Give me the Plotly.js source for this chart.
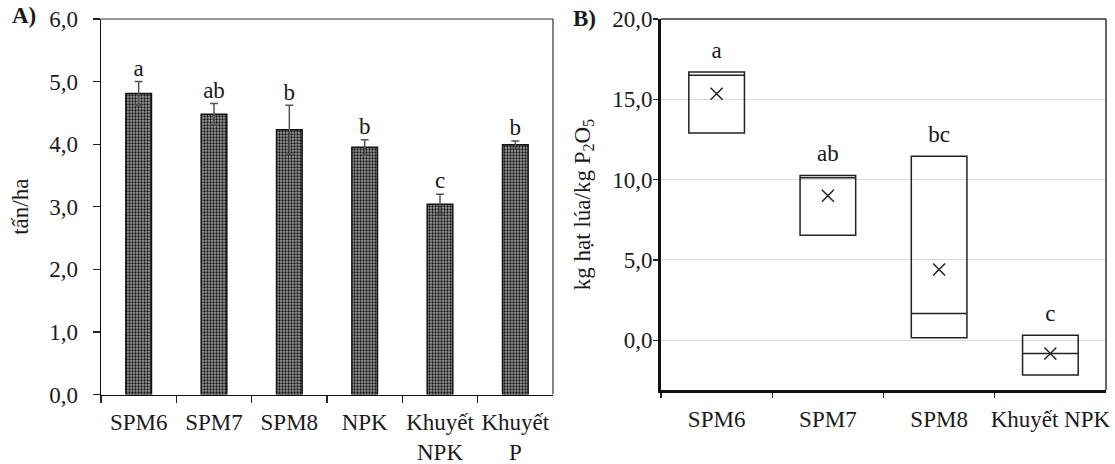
<!DOCTYPE html>
<html>
<head>
<meta charset="utf-8">
<script src="https://cdn.plot.ly/plotly-3.0.1.min.js"></script>
<style>html,body{margin:0;padding:0;background:#fff;}#chart{width:1115px;height:464px;}</style>
</head>
<body>
<div id="chart"></div>
<script>
// ---- Panel A data ----
const categoriesA = ['SPM6', 'SPM7', 'SPM8', 'NPK', 'Khuyết NPK', 'Khuyết P'];
const tickLabelsA = ['SPM6', 'SPM7', 'SPM8', 'NPK', 'Khuyết<br>NPK', 'Khuyết<br>P'];
const yieldA = [4.81, 4.48, 4.23, 3.95, 3.04, 3.99];
const errA = [0.19, 0.17, 0.39, 0.12, 0.16, 0.06];
const lettersA = ['a', 'ab', 'b', 'b', 'c', 'b'];
const yTicksA = [0, 1, 2, 3, 4, 5, 6];

// ---- Panel B data ----
const categoriesB = ['SPM6', 'SPM7', 'SPM8', 'Khuyết NPK'];
const q1B = [12.9, 6.54, 0.15, -2.16];
const medianB = [16.5, 10.11, 1.66, -0.83];
const q3B = [16.7, 10.26, 11.46, 0.31];
const meanB = [15.35, 8.99, 4.4, -0.83];
const lettersB = ['a', 'ab', 'bc', 'c'];
const yTicksB = [0, 5, 10, 15, 20];

const FONT = 'Liberation Serif, Times New Roman, serif';
const TXT = '#1a1a1a';

const topA = yieldA.map((v, i) => v + errA[i]);

const traces = [
  {
    type: 'bar', x: categoriesA, y: yieldA, xaxis: 'x', yaxis: 'y',
    marker: {
      color: '#777',
      line: {color: '#111', width: 1.5},
      pattern: {shape: '.', fgcolor: '#111', bgcolor: '#9c9c9c', size: 3, solidity: 0.45}
    },
    error_y: {type: 'data', array: errA, visible: true, color: '#555', thickness: 1.5, width: 4},
    hoverinfo: 'x+y', showlegend: false
  },
  {
    type: 'scatter', mode: 'text', x: categoriesA, y: topA, text: lettersA,
    textposition: 'top center', xaxis: 'x', yaxis: 'y',
    textfont: {family: FONT, size: 23, color: TXT}, showlegend: false, hoverinfo: 'skip'
  },
  {
    type: 'box', x: categoriesB, q1: q1B, median: medianB, q3: q3B,
    lowerfence: q1B, upperfence: q3B, xaxis: 'x2', yaxis: 'y2',
    width: 0.5, whiskerwidth: 0,
    line: {color: '#222', width: 1.5}, fillcolor: 'rgba(255,255,255,0)',
    boxpoints: false, showlegend: false
  },
  {
    type: 'scatter', mode: 'markers', x: categoriesB, y: meanB, xaxis: 'x2', yaxis: 'y2',
    marker: {symbol: 'x-thin-open', size: 12, color: '#222', line: {color: '#222', width: 1.5}},
    showlegend: false
  },
  {
    type: 'scatter', mode: 'markers+text', x: categoriesB, y: q3B, text: lettersB,
    textposition: 'top center', xaxis: 'x2', yaxis: 'y2',
    marker: {size: 12, opacity: 0},
    textfont: {family: FONT, size: 23, color: TXT}, showlegend: false, hoverinfo: 'skip'
  }
];

const axFont = {family: FONT, size: 23, color: TXT};

const layout = {
  width: 1115, height: 464,
  margin: {l: 0, r: 0, t: 0, b: 0},
  paper_bgcolor: '#fff', plot_bgcolor: '#fff',
  separators: ',.',
  font: {family: FONT, size: 23, color: TXT},
  bargap: 0.66,
  xaxis: {
    domain: [101 / 1115, 553 / 1115], anchor: 'y',
    type: 'category', categoryarray: categoriesA, range: [-0.5, 5.5],
    tickvals: categoriesA, ticktext: tickLabelsA, tickangle: 0,
    tickson: 'boundaries', ticks: 'outside', ticklen: 7, tickcolor: '#222', tickwidth: 1.2,
    showline: true, linecolor: '#111', linewidth: 1.5, mirror: false,
    ticklabelstandoff: 6,
    tickfont: axFont, showgrid: false, fixedrange: true
  },
  yaxis: {
    domain: [1 - 394.5 / 464, 1 - 19 / 464], anchor: 'x',
    range: [0, 6], tickvals: yTicksA, tickformat: '.1f',
    ticks: 'outside', ticklen: 7, tickcolor: '#222', tickwidth: 1.2,
    showline: true, linecolor: '#111', linewidth: 1.5,
    tickfont: axFont, showgrid: false, zeroline: false,
    ticklabelstandoff: 10,
    title: {text: 'tấn/ha', font: axFont, standoff: 14}
  },
  xaxis2: {
    domain: [661 / 1115, 1106 / 1115], anchor: 'y2',
    type: 'category', categoryarray: categoriesB, range: [-0.5, 3.5], tickangle: 0,
    tickson: 'boundaries', ticks: 'outside', ticklen: 5, tickcolor: '#222', tickwidth: 1.2,
    showline: true, linecolor: '#111', linewidth: 3,
    ticklabelstandoff: 6,
    tickfont: axFont, showgrid: false, fixedrange: true
  },
  yaxis2: {
    domain: [1 - 390 / 464, 1 - 19 / 464], anchor: 'x2',
    range: [-3.1, 20], tickvals: yTicksB, tickformat: '.1f',
    ticks: 'outside', ticklen: 5, tickcolor: '#222', tickwidth: 1.2,
    showline: true, linecolor: '#111', linewidth: 3,
    showgrid: true, gridcolor: '#d9d9d9', gridwidth: 1, zeroline: false,
    ticklabelstandoff: -4,
    tickfont: axFont,
    title: {text: 'kg hạt lúa/kg P<sub>2</sub>O<sub>5</sub>', font: axFont, standoff: 16}
  },
  shapes: [
    {type: 'line', xref: 'x domain', yref: 'y domain', x0: 0, x1: 1, y0: 1, y1: 1, line: {color: '#333', width: 1.2}},
    {type: 'line', xref: 'x domain', yref: 'y domain', x0: 1, x1: 1, y0: 0, y1: 1, line: {color: '#333', width: 1.2}},
    {type: 'line', xref: 'x2 domain', yref: 'y2 domain', x0: 0, x1: 1, y0: 1, y1: 1, line: {color: '#333', width: 1.5}},
    {type: 'line', xref: 'x2 domain', yref: 'y2 domain', x0: 1, x1: 1, y0: 0, y1: 1, line: {color: '#333', width: 1.5}}
  ],
  annotations: [
    {text: '<b>A)</b>', xref: 'paper', yref: 'paper', x: 10 / 1115, y: 1 - 16 / 464,
     xanchor: 'left', yanchor: 'middle', showarrow: false, font: {family: FONT, size: 23, color: TXT}},
    {text: '<b>B)</b>', xref: 'paper', yref: 'paper', x: 571 / 1115, y: 1 - 18 / 464,
     xanchor: 'left', yanchor: 'middle', showarrow: false, font: {family: FONT, size: 23, color: TXT}}
  ]
};

Plotly.newPlot('chart', traces, layout, {displayModeBar: false, staticPlot: true});
</script>
</body>
</html>
